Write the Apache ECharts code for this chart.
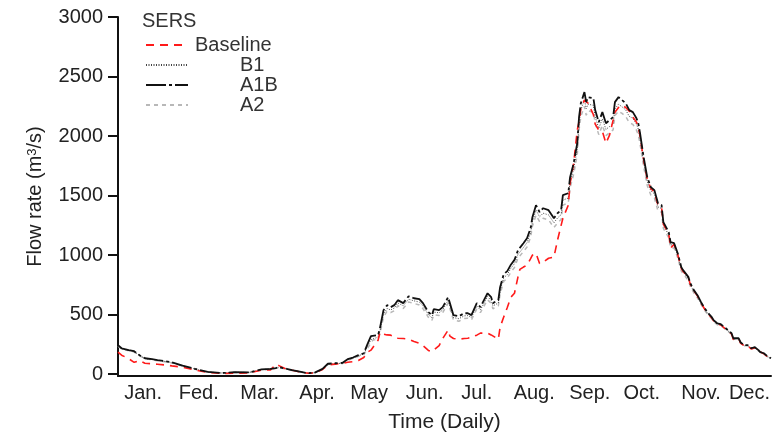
<!DOCTYPE html>
<html>
<head>
<meta charset="utf-8">
<script src="https://cdn.jsdelivr.net/npm/echarts@6/dist/echarts.min.js"></script>
<style>
  html, body { margin: 0; padding: 0; background: #fff; }
  #chart { width: 779px; height: 440px; }
</style>
</head>
<body>
<div id="chart"></div>
<script>
// Day of year for each sampled flow value
const days = [1,3,7,10,13,16,20,23,27,31,37,44,51,59,66,74,81,86,89,91,95,98,103,107,111,115,118,122,126,129,132,135,138,140,142,143,146,147,149,151,153,155,157,160,163,166,169,171,172,174,176,177,180,182,185,186,188,191,194,196,198,201,203,207,209,210,213,214,216,218,220,222,224,225,227,229,231,232,234,236,237,238,241,242,244,246,248,249,252,253,255,257,258,259,261,262,263,266,267,269,271,273,275,277,278,280,282,284,286,288,290,291,292,294,296,298,300,302,304,305,308,309,311,313,315,316,319,320,322,324,326,328,330,332,333,335,337,339,341,343,344,347,348,350,352,354,356,358,359,361,363,365];

// Daily flow rate (m3/s) per SERS scenario
const baseline = [185,160,130,100,115,92,88,84,78,70,59,34,15,6,8,10,34,36,84,70,42,34,18,8,12,40,78,85,90,100,106,115,140,185,202,218,286,353,336,330,328,315,302,300,294,275,260,240,227,200,190,205,240,300,370,320,300,294,300,302,310,328,345,345,330,320,294,395,480,560,647,680,820,880,900,916,970,1000,1016,930,916,941,974,958,983,1126,1250,1310,1420,1600,1770,2050,2120,2230,2302,2290,2276,2180,2100,2050,2040,1940,2008,2134,2200,2240,2260,2240,2210,2160,2117,2080,2000,1800,1640,1560,1530,1420,1400,1260,1180,1060,1090,1005,890,865,808,756,700,658,598,548,505,472,448,422,414,388,362,338,292,300,262,238,240,212,222,196,180,172,146,128];

const b1 = [240,215,199,190,158,132,124,116,108,98,70,44,19,10,16,15,38,44,51,56,44,33,19,8,15,43,85,89,92,122,136,155,170,232,290,305,312,360,505,552,540,556,598,575,630,616,606,575,572,500,474,522,516,540,620,575,476,466,490,492,476,572,540,652,620,574,598,700,810,836,890,928,1008,1025,1064,1105,1188,1280,1378,1322,1312,1352,1338,1335,1272,1312,1340,1462,1480,1610,1725,1890,2105,2220,2305,2230,2268,2258,2162,2065,2145,2056,2080,2105,2228,2268,2245,2220,2165,2150,2100,2060,1980,1785,1620,1540,1515,1405,1392,1252,1170,1088,1080,998,884,860,802,752,695,654,596,546,505,472,448,422,415,390,365,340,298,298,266,241,241,215,224,199,183,174,149,132];

const a1b = [244,218,202,193,160,134,126,118,110,100,72,45,20,10,17,15,40,45,52,58,45,34,20,8,15,45,88,92,95,126,140,160,176,250,320,328,330,386,538,580,563,580,622,597,655,638,630,597,597,521,496,546,538,563,647,597,496,487,512,512,496,597,563,680,647,597,622,731,840,866,920,960,1042,1058,1100,1142,1226,1319,1420,1361,1352,1394,1378,1378,1310,1352,1378,1504,1520,1655,1772,1940,2159,2276,2369,2285,2327,2318,2218,2117,2201,2108,2134,2159,2285,2327,2302,2276,2218,2201,2150,2108,2024,1823,1655,1571,1546,1436,1420,1277,1193,1109,1100,1016,899,874,815,764,706,664,605,554,512,479,454,428,420,395,370,344,302,302,269,244,244,218,227,202,185,176,151,134];

const a2 = [236,212,196,186,155,130,121,113,105,95,68,42,18,9,15,14,36,42,49,54,42,32,18,7,14,41,82,86,88,118,131,150,163,215,262,285,296,336,480,530,518,532,575,552,606,594,582,550,548,478,452,500,494,516,596,552,455,445,468,470,456,548,518,625,596,550,574,672,780,806,858,896,975,990,1030,1068,1150,1242,1335,1282,1272,1310,1296,1292,1232,1270,1300,1420,1438,1566,1680,1842,2052,2165,2250,2175,2212,2200,2108,2012,2090,2004,2028,2052,2172,2210,2190,2165,2112,2098,2050,2012,1935,1745,1585,1505,1480,1372,1360,1225,1145,1065,1058,978,866,843,787,738,682,642,586,537,497,465,441,416,409,384,360,335,294,294,262,238,238,212,221,196,180,171,147,130];

// Month labels and the day each one sits on
const monthLabels = ['Jan.','Fed.','Mar.','Apr.','May','Jun.','Jul.','Aug.','Sep.','Oct.','Nov.','Dec.'];
const monthDays = [15,46,80,112,141,172,201,233,264,293,326,353];

// Flow-rate tick labels
const flowTicks = [0,500,1000,1500,2000,2500,3000];

const pairs = arr => days.map((d, i) => [d, arr[i]]);
const FONT = 'Liberation Sans, Arial, sans-serif';

const chart = echarts.init(document.getElementById('chart'), null, { renderer: 'canvas' });
chart.setOption({
  animation: false,
  backgroundColor: '#fff',
  textStyle: { fontFamily: FONT },
  title: {
    text: 'SERS',
    left: 137,
    top: 6,
    textStyle: { fontFamily: FONT, fontSize: 20, fontWeight: 'normal', color: '#333' }
  },
  legend: {
    orient: 'vertical',
    left: 140,
    top: 30,
    itemWidth: 42,
    itemHeight: 10,
    itemGap: 0,
    data: ['Baseline', 'B1', 'A1B', 'A2'],
    itemStyle: { opacity: 0 },
    formatter: name => (name === 'Baseline' ? '{s1| }' : '{s2| }') + name,
    textStyle: {
      fontFamily: FONT, fontSize: 20, color: '#333', lineHeight: 19,
      rich: {
        s1: { width: 2, fontSize: 20, lineHeight: 19 },
        s2: { width: 47, fontSize: 20, lineHeight: 19 }
      }
    }
  },
  grid: { left: 118, right: 8, top: 17, bottom: 64, containLabel: false },
  xAxis: {
    type: 'value',
    min: 1,
    max: 365,
    name: 'Time (Daily)',
    nameLocation: 'middle',
    nameGap: 36,
    nameTextStyle: { fontFamily: FONT, fontSize: 21, color: '#222' },
    axisLine: { onZero: false, lineStyle: { color: '#111', width: 2 } },
    axisTick: { show: false },
    splitLine: { show: false },
    axisLabel: {
      customValues: monthDays,
      formatter: v => monthLabels[monthDays.indexOf(v)],
      fontFamily: FONT, fontSize: 20, color: '#222', margin: 7
    }
  },
  yAxis: {
    type: 'value',
    min: -15,
    max: 3000,
    name: 'Flow rate (m{sup|3}/s)',
    nameLocation: 'middle',
    nameRotate: 90,
    nameGap: 62,
    nameTextStyle: {
      fontFamily: FONT, fontSize: 20, color: '#222',
      rich: { sup: { fontFamily: FONT, fontSize: 13, color: '#222', verticalAlign: 'top', lineHeight: 14, padding: [0, 0, 9, 0] } }
    },
    axisLine: { show: true, lineStyle: { color: '#111', width: 2 } },
    axisTick: { show: true, customValues: flowTicks, length: 10, lineStyle: { color: '#111', width: 2 } },
    splitLine: { show: false },
    axisLabel: {
      customValues: flowTicks,
      formatter: v => String(v),
      fontFamily: FONT, fontSize: 20, color: '#222', margin: 15
    }
  },
  series: [
    {
      name: 'Baseline', type: 'line', data: pairs(baseline), symbol: 'none', z: 4,
      lineStyle: { color: '#ff1a1a', width: 1.6, type: [8, 6] },
      itemStyle: { color: '#ff1a1a' }
    },
    {
      name: 'B1', type: 'line', data: pairs(b1), symbol: 'none', z: 3,
      lineStyle: { color: '#444', width: 1, type: [1, 1.5] },
      itemStyle: { color: '#444' }
    },
    {
      name: 'A1B', type: 'line', data: pairs(a1b), symbol: 'none', z: 5,
      lineStyle: { color: '#111', width: 1.8, type: [20, 3, 3, 3] },
      itemStyle: { color: '#111' }
    },
    {
      name: 'A2', type: 'line', data: pairs(a2), symbol: 'none', z: 2,
      lineStyle: { color: '#b8b8b8', width: 1.5, type: [4, 4] },
      itemStyle: { color: '#b8b8b8' }
    }
  ]
});
</script>
</body>
</html>
